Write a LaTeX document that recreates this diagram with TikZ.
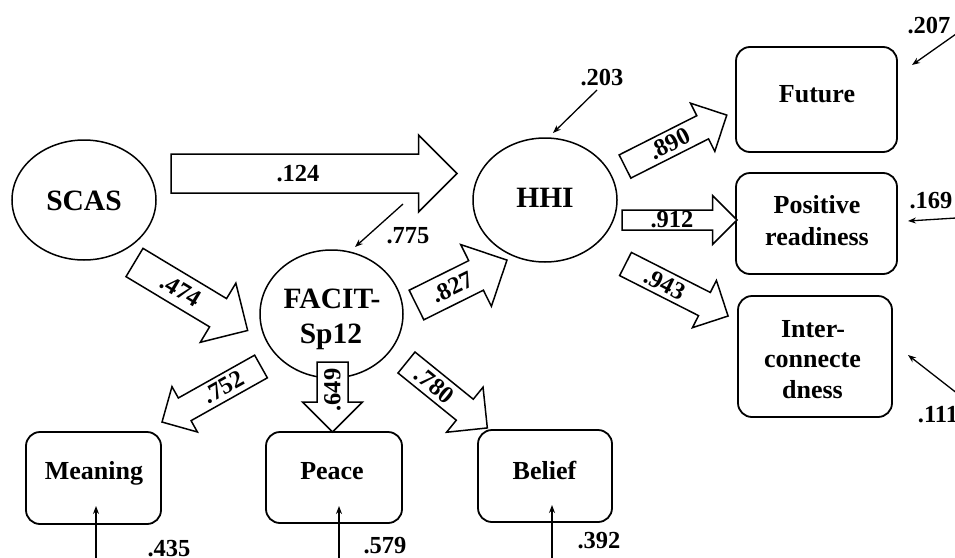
\documentclass[tikz,border=0pt]{standalone}
\usepackage{fontspec}
\setmainfont{Liberation Serif}
\usetikzlibrary{shapes.geometric,arrows.meta}
\tikzset{
  lat/.style={draw,ellipse,line width=1.5pt,inner sep=0pt},
  obs/.style={draw,rounded corners=14pt,line width=1.8pt,inner sep=0pt},
  txt/.style={font=\bfseries\fontsize{26}{26}\selectfont,anchor=base,inner sep=0pt},
  num/.style={font=\bfseries\fontsize{24.5}{24.5}\selectfont,inner sep=0pt},
  numb/.style={num,anchor=base},
  err/.style={line width=1.3pt,-{Stealth[length=8pt,width=6pt]}},
  barrow/.style={draw,fill=white,line width=1.5pt,line join=miter},
}
% #1 name, #2 tail, #3 angle, #4 length, #5 shaft half width, #6 head half width (= head length), #7 label position, #8 text angle, #9 text
\newcommand\blockarrow[9]{%
  \begin{scope}[shift={(#2)},rotate=#3]
    \draw[barrow] (0,#5) -- ({#4-#6},#5) -- ({#4-#6},#6) -- (#4,0) -- ({#4-#6},-#6) -- ({#4-#6},-#5) -- (0,-#5) -- cycle;
    \node[num,rotate=#8] (#1) at (#7,0) {#9};
  \end{scope}}
\begin{document}
\begin{tikzpicture}[x=1pt,y=-1pt]
\useasboundingbox (0,0) rectangle (955,557);
\clip (0,0) rectangle (955,557);
% latent variables
\node[lat,minimum width=144pt,minimum height=120pt] (scas) at (84,200) {};
\node[lat,minimum width=144pt,minimum height=124pt] (hhi) at (545,200) {};
\node[lat,minimum width=143pt,minimum height=128pt] (facit) at (331.5,314) {};
% observed variables
\node[obs,minimum width=161pt,minimum height=105pt] (future) at (816.5,99.5) {};
\node[obs,minimum width=161pt,minimum height=101pt] (posr) at (816.5,223.5) {};
\node[obs,minimum width=154pt,minimum height=121pt] (inter) at (815,356.5) {};
\node[obs,minimum width=135pt,minimum height=92pt] (meaning) at (93.5,478) {};
\node[obs,minimum width=136pt,minimum height=91pt] (peace) at (334,477.5) {};
\node[obs,minimum width=134pt,minimum height=92pt] (belief) at (545,476) {};
% texts
\node[txt,font=\bfseries\fontsize{29.5}{29.5}\selectfont] (scast) at (84,210) {SCAS};
\node[txt,font=\bfseries\fontsize{29.5}{29.5}\selectfont] (hhit) at (545,207) {HHI};
\node[txt,font=\bfseries\fontsize{29.5}{29.5}\selectfont] (facit1) at (332,308) {FACIT-};
\node[txt,font=\bfseries\fontsize{29.5}{29.5}\selectfont] (facit2) at (331,343) {Sp12};
\node[txt] (futuret) at (817,102) {Future};
\node[txt] (posr1) at (817,213) {Positive};
\node[txt] (posr2) at (817,245) {readiness};
\node[txt] (inter1) at (813,337) {Inter-};
\node[txt] (inter2) at (812.5,367) {connecte};
\node[txt] (inter3) at (812.5,398) {dness};
\node[txt] (meaningt) at (94,479) {Meaning};
\node[txt] (peacet) at (332,479) {Peace};
\node[txt] (belieft) at (544.5,479) {Belief};
% block arrows (paths)
\blockarrow{p124}{171,173.5}{0}{286}{19.5}{38.5}{127}{0}{.124}
\blockarrow{p912}{622,220}{0}{115}{10}{24.5}{50}{0}{.912}
\blockarrow{p890}{625,166.5}{26.8}{114}{13}{27}{50}{26.8}{.890}
\blockarrow{p943}{625.5,264}{-26.9}{115}{13}{26.5}{44}{-26.9}{.943}
\blockarrow{p827}{416.5,305}{26.4}{101}{16.5}{34.5}{40}{26.4}{.827}
\blockarrow{p474}{134.5,262.5}{-31}{132}{16.5}{34.5}{54}{-31}{.474}
\blockarrow{p752}{261,366.5}{209.3}{113.5}{13}{26}{43}{29.3}{.752}
\blockarrow{p780}{406.5,362.5}{-39}{104}{13.5}{29}{36}{-39}{.780}
\blockarrow{p649}{332.5,362}{-90}{70}{15.5}{30}{28}{90}{.649}
% error terms
\coordinate (e203s) at (597,90);   \coordinate (e203t) at (553,133);
\coordinate (e775s) at (403,204);  \coordinate (e775t) at (355,247);
\coordinate (e207s) at (956,34);   \coordinate (e207t) at (912,65);
\coordinate (e169s) at (956,218);  \coordinate (e169t) at (908,221);
\coordinate (e111s) at (958,394);  \coordinate (e111t) at (908,355);
\coordinate (e435s) at (96,558);   \coordinate (e435t) at (96,506);
\coordinate (e579s) at (339,558);  \coordinate (e579t) at (339,506);
\coordinate (e392s) at (552,558);  \coordinate (e392t) at (552,505);
\foreach \e in {203,775,207,169,111,435,579,392}
  \draw[err] (e\e s) -- (e\e t);
\node[numb] (l203) at (602,85) {.203};
\node[numb] (l775) at (408,243) {.775};
\node[numb] (l207) at (929,33) {.207};
\node[numb] (l169) at (931,208) {.169};
\node[numb] (l111) at (938,422) {.111};
\node[numb] (l435) at (169,556) {.435};
\node[numb] (l579) at (385,553) {.579};
\node[numb] (l392) at (599,548) {.392};
\end{tikzpicture}
\end{document}
